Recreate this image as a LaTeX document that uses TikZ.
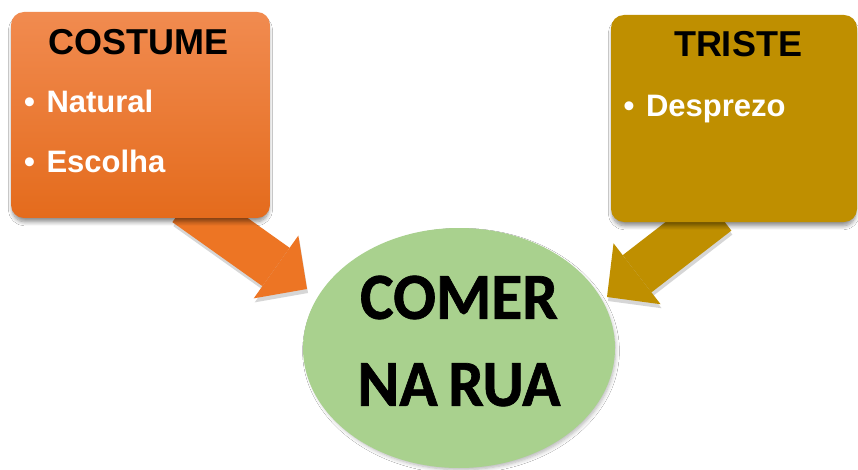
\documentclass[tikz,border=0pt]{standalone}
\usepackage{fontspec}
\setmainfont{Liberation Sans}
\newfontfamily\hubfont[FakeStretch=0.96,FakeBold=1]{Carlito}
\usetikzlibrary{shapes.geometric,arrows.meta,shadows.blur}
\definecolor{orTop}{RGB}{241,139,80}
\definecolor{orBot}{RGB}{228,107,28}
\definecolor{orArrow}{RGB}{237,117,36}
\definecolor{goldc}{RGB}{191,143,0}
\definecolor{hubgreen}{RGB}{169,209,142}
\begin{document}
\begin{tikzpicture}[x=1pt,y=-1pt,
  boxstyle/.style={rectangle, rounded corners=13pt, inner sep=0pt,
    blur shadow={shadow xshift=0pt, shadow yshift=-5pt, shadow scale=0.99, shadow blur radius=4pt, shadow blur steps=8, shadow opacity=45}},
  bigarrow/.style={line width=47pt, -{Triangle[width=77pt,length=38pt,line width=0pt]}},
  arrowshadow/.style={bigarrow, draw=black!16, fill=black!16, transform canvas={xshift=1pt,yshift=-4pt}},
  titletext/.style={font=\bfseries\fontsize{36}{40}\selectfont, text=black, inner sep=0pt, anchor=base},
  itemtext/.style={font=\bfseries\fontsize{31}{36}\selectfont, text=white, inner sep=0pt, anchor=base west},
  hubstyle/.style={ellipse, fill=hubgreen, minimum width=312pt, minimum height=240pt, inner sep=0pt,
    blur shadow={shadow xshift=2pt, shadow yshift=-3pt, shadow scale=0.99, shadow blur radius=4pt, shadow blur steps=6, shadow opacity=30}},
  hubtext/.style={font=\hubfont\bfseries\fontsize{66}{87}\selectfont, align=center, inner sep=0pt, text=black}
]
\useasboundingbox[fill=white] (0,0) rectangle (858,470);

% arrow end points
\coordinate (lA) at (186,203);
\coordinate (lB) at (307,289);
\coordinate (rA) at (717,212);
\coordinate (rB) at (607,297);

% arrows with shadows
\draw[arrowshadow] (lA) -- (lB);
\draw[arrowshadow] (rA) -- (rB);
\draw[bigarrow, draw=orArrow, fill=orArrow] (lA) -- (lB);
\draw[bigarrow, draw=goldc, fill=goldc] (rA) -- (rB);

% boxes
\node[boxstyle, top color=orTop, bottom color=orBot, minimum width=259pt, minimum height=206pt] (costume) at (140.5,115) {};
\node[boxstyle, fill=goldc, minimum width=246pt, minimum height=207pt] (triste) at (734,118.5) {};

% hub
\node[hubstyle] (hub) at (459,348) {};
\node[hubtext] (hubtxt) at (459,341) {COMER\\NA\hspace{0.16em}RUA};

% texts
\node[titletext] (costumeT) at (138.5,55) {COSTUME};
\node[itemtext] (natural) at (24,113) {•\hspace{11.5pt}Natural};
\node[itemtext] (escolha) at (24,173) {•\hspace{11.5pt}Escolha};
\node[titletext] (tristeT) at (738,57) {TRISTE};
\node[itemtext] (desprezo) at (623.5,117) {•\hspace{11.5pt}Desprezo};
\end{tikzpicture}
\end{document}
